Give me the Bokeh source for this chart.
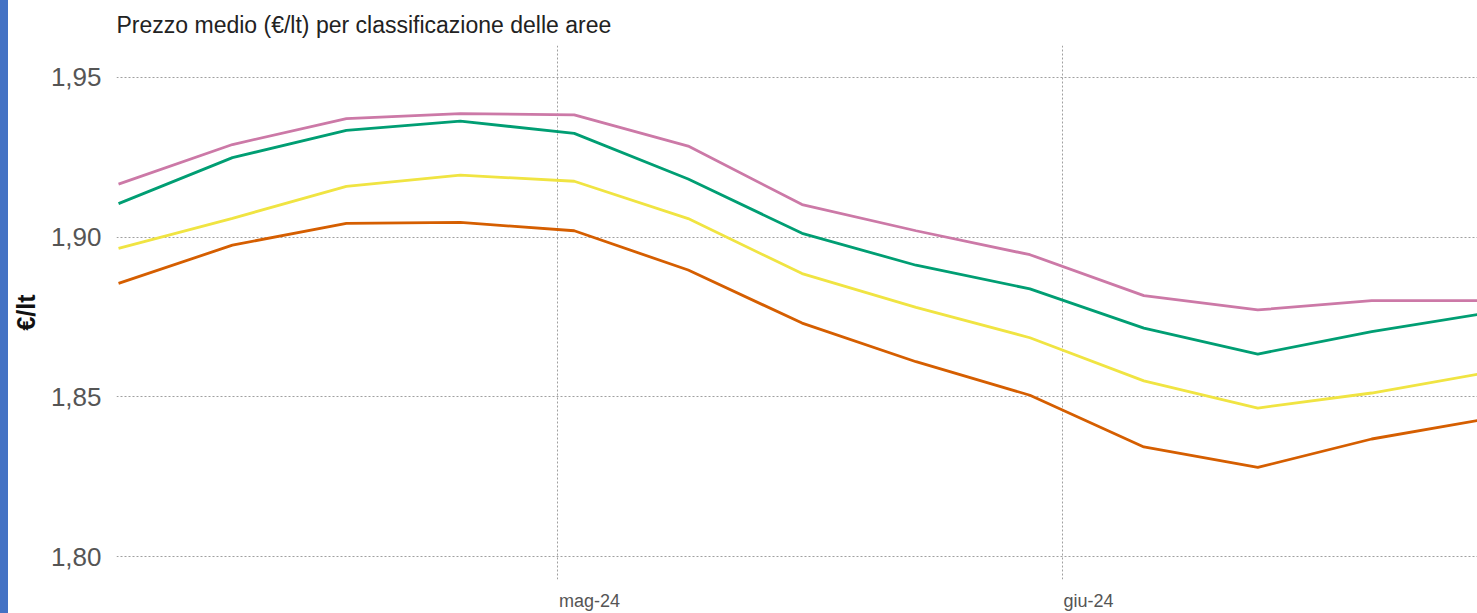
import pandas as pd
from bokeh.plotting import figure
from bokeh.layouts import row
from bokeh.models import FixedTicker, CustomJSTickFormatter, Range1d, Div
from bokeh.embed import file_html
from bokeh.resources import INLINE

# ---- data ----
dates = ["2024-04-04", "2024-04-11", "2024-04-18", "2024-04-25", "2024-05-02",
         "2024-05-09", "2024-05-16", "2024-05-23", "2024-05-30", "2024-06-06",
         "2024-06-13", "2024-06-20", "2024-06-27"]
serie_rosa = [1.9166, 1.9290, 1.9371, 1.9387, 1.9383, 1.9285, 1.9102, 1.9020,
              1.8945, 1.8817, 1.8772, 1.8801, 1.8801]
serie_verde = [1.9105, 1.9249, 1.9334, 1.9363, 1.9325, 1.9182, 1.9012, 1.8912,
               1.8838, 1.8715, 1.8634, 1.8704, 1.8762]
serie_gialla = [1.8965, 1.9059, 1.9159, 1.9194, 1.9175, 1.9058, 1.8886, 1.8780,
                1.8685, 1.8550, 1.8465, 1.8512, 1.8575]
serie_arancio = [1.8855, 1.8975, 1.9043, 1.9046, 1.9020, 1.8897, 1.8731, 1.8610,
                 1.8505, 1.8343, 1.8279, 1.8368, 1.8430]
y_ticks = [1.80, 1.85, 1.90, 1.95]
month_ticks = ["2024-05-01", "2024-06-01"]
month_labels = ["mag-24", "giu-24"]
title_text = "Prezzo medio (€/lt) per classificazione delle aree"
y_label = "€/lt"

x = pd.to_datetime(dates)
x_start = pd.Timestamp("2024-04-04") - pd.Timedelta(hours=3)
x_end = pd.Timestamp("2024-06-26") + pd.Timedelta(hours=12)

FIG_W, BORDER_L = 1469, 107
p = figure(width=FIG_W, height=613, x_axis_type="datetime",
           output_backend="svg", toolbar_location=None,
           x_range=Range1d(x_start, x_end), y_range=Range1d(1.79281, 1.96),
           min_border_left=BORDER_L, min_border_right=0,
           min_border_top=45, min_border_bottom=33)

p.title.text = title_text
p.title.text_font = "Liberation Sans"
p.title.text_font_size = "23px"
p.title.text_font_style = "normal"
p.title.text_color = "#222222"
p.title.align = "left"
p.title.offset = 0
p.title.standoff = 15

colors = ["#cc79a7", "#009e73", "#f0e442", "#d55e00"]
for ys, c in zip([serie_rosa, serie_verde, serie_gialla, serie_arancio], colors):
    p.line(x, ys, line_color=c, line_width=2.8)

p.outline_line_color = None
p.background_fill_color = "white"
p.border_fill_color = "white"

# y axis
p.yaxis.ticker = FixedTicker(ticks=y_ticks)
p.yaxis.formatter = CustomJSTickFormatter(code="return tick.toFixed(2).replace('.', ',');")
p.yaxis.axis_line_color = None
p.yaxis.major_tick_line_color = None
p.yaxis.minor_tick_line_color = None
p.yaxis.major_tick_out = 0
p.yaxis.minor_tick_out = 0
p.yaxis.major_label_text_font = "Liberation Sans"
p.yaxis.major_label_text_font_size = "26px"
p.yaxis.major_label_text_color = "#555555"
p.yaxis.major_label_standoff = 15
p.yaxis.axis_label = y_label
p.yaxis.axis_label_text_font = "Liberation Sans"
p.yaxis.axis_label_text_font_size = "25px"
p.yaxis.axis_label_text_font_style = "bold"
p.yaxis.axis_label_text_color = "#111111"
p.yaxis.axis_label_standoff = 8

# x axis: gridlines at month starts; labels placed so they start at the gridline
LABEL_PX = 18
char_em = {"m": .833, "a": .556, "g": .556, "i": .222, "u": .556, "-": .333,
           "2": .556, "4": .556}
tick_ms = [int(pd.Timestamp(t).value // 10**6) for t in month_ticks]
span_ms = (x_end - x_start).total_seconds() * 1000
px_per_ms = (FIG_W - BORDER_L) / span_ms
label_pos = []
for t, lab in zip(tick_ms, month_labels):
    w = sum(char_em.get(ch, .556) for ch in lab) * LABEL_PX
    label_pos.append(int(t + round((w / 2 + 1) / px_per_ms)))

p.xgrid.ticker = FixedTicker(ticks=tick_ms)
p.xaxis.ticker = FixedTicker(ticks=label_pos)
p.xaxis.major_label_overrides = {t: lab for t, lab in zip(label_pos, month_labels)}
p.xaxis.axis_line_color = None
p.xaxis.major_tick_line_color = None
p.xaxis.minor_tick_line_color = None
p.xaxis.major_tick_out = 0
p.xaxis.minor_tick_out = 0
p.xaxis.major_label_text_font = "Liberation Sans"
p.xaxis.major_label_text_font_size = f"{LABEL_PX}px"
p.xaxis.major_label_text_color = "#555555"
p.xaxis.major_label_standoff = 11

p.xgrid.grid_line_color = "#a0a0a0"
p.xgrid.grid_line_dash = "2 2"
p.xgrid.grid_line_width = 1
p.ygrid.grid_line_color = "#a0a0a0"
p.ygrid.grid_line_dash = "2 2"
p.ygrid.grid_line_width = 1

strip = Div(width=8, height=613, margin=0, styles={"background-color": "#4472c4"})
layout = row(strip, p, spacing=0)

open("out.html", "w").write(file_html(layout, INLINE))
